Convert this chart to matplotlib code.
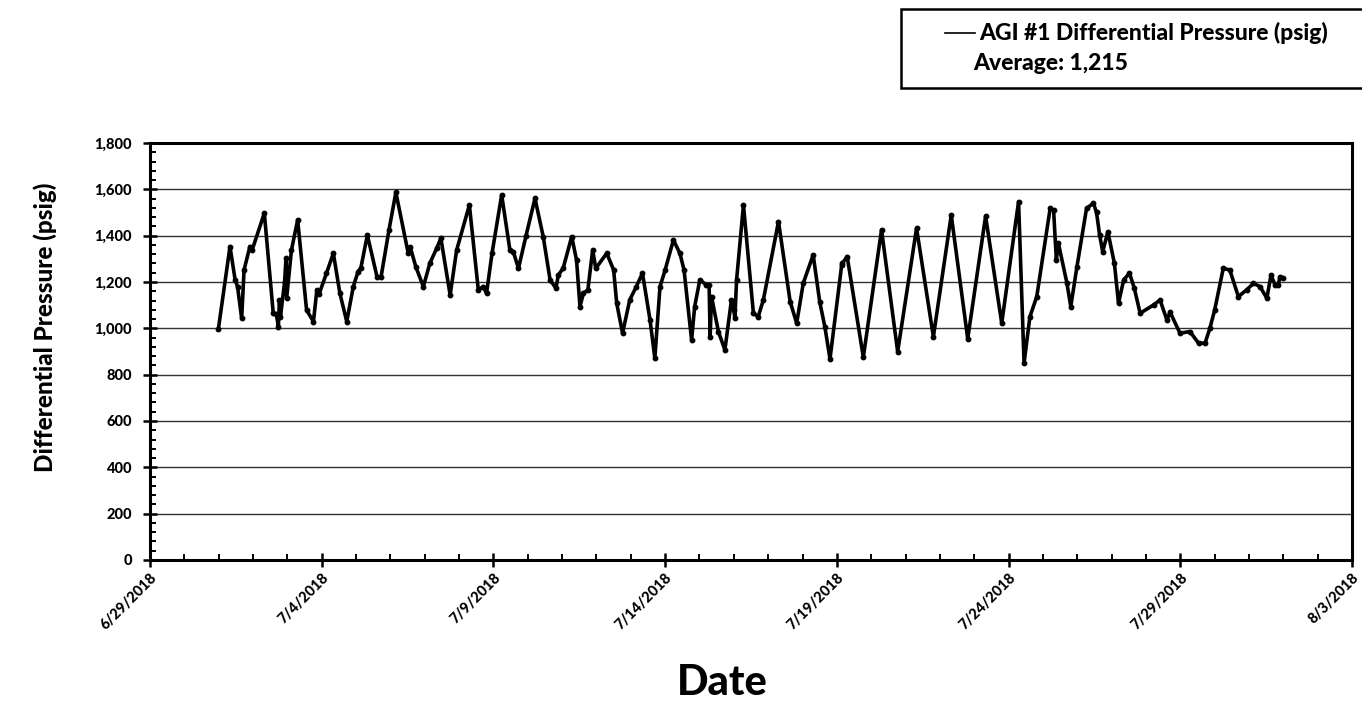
import matplotlib
matplotlib.use("Agg")
import matplotlib.pyplot as plt
import matplotlib.dates as mdates
from matplotlib.patches import Rectangle
from matplotlib.lines import Line2D
from matplotlib.ticker import MultipleLocator, FuncFormatter
import numpy as np
import pandas as pd

plt.rcParams['font.family'] = ['Lato', 'DejaVu Sans']
plt.rcParams['font.weight'] = 'bold'

# Days elapsed since 2018-06-29 00:00 for each reading
day_offset = [
    1.99, 2.33, 2.48, 2.55, 2.67, 2.74, 2.91, 2.98, 3.33, 3.59, 3.68, 3.74, 3.77, 3.80,
    3.92, 3.96, 3.98, 4.12, 4.30, 4.56, 4.76, 4.86, 4.93, 5.14, 5.34, 5.53, 5.73, 5.92,
    6.06, 6.14, 6.33, 6.61, 6.73, 6.96, 7.16, 7.52, 7.58, 7.74, 7.96, 8.15, 8.35, 8.47,
    8.74, 8.93, 9.30, 9.56, 9.70, 9.80, 9.96, 10.24, 10.48, 10.58, 10.73, 10.95, 11.21,
    11.45, 11.65, 11.82, 11.89, 12.03, 12.28, 12.42, 12.52, 12.62, 12.75, 12.89, 12.98,
    13.30, 13.50, 13.59, 13.76, 13.97, 14.16, 14.34, 14.56, 14.70, 14.85, 15.00, 15.24,
    15.43, 15.55, 15.77, 15.86, 16.01, 16.20, 16.28, 16.31, 16.35, 16.55, 16.74, 16.93,
    17.00, 17.03, 17.08, 17.28, 17.57, 17.71, 17.86, 18.30, 18.64, 18.83, 19.02, 19.31,
    19.50, 19.65, 19.80, 20.14, 20.16, 20.30, 20.77, 21.30, 21.77, 22.32, 22.81, 23.33,
    23.81, 24.33, 24.80, 25.29, 25.45, 25.62, 25.82, 26.21, 26.31, 26.39, 26.45, 26.70,
    26.81, 26.99, 27.27, 27.47, 27.56, 27.65, 27.74, 27.89, 28.08, 28.20, 28.35, 28.52,
    28.66, 28.83, 29.22, 29.41, 29.61, 29.70, 29.99, 30.28, 30.53, 30.72, 30.86, 31.00,
    31.25, 31.44, 31.69, 31.93, 32.13, 32.32, 32.52, 32.64, 32.76, 32.85, 32.90, 33.00,
]

# Differential pressure readings (psig)
pressure = [
    995, 1353, 1209, 1180, 1043, 1252, 1353, 1340, 1497, 1065, 1060, 1007, 1122, 1050,
    1200, 1302, 1131, 1338, 1468, 1079, 1029, 1166, 1150, 1238, 1324, 1151, 1029, 1180,
    1245, 1260, 1403, 1223, 1223, 1425, 1587, 1324, 1350, 1266, 1180, 1281, 1346, 1389,
    1144, 1338, 1532, 1166, 1180, 1151, 1324, 1576, 1338, 1330, 1259, 1400, 1561,
    1396, 1209, 1173, 1230, 1259, 1396, 1295, 1094, 1151, 1166, 1338, 1259,
    1324, 1252, 1108, 979, 1123, 1180, 1238, 1036, 871, 1180, 1252, 1381,
    1324, 1252, 950, 1094, 1209, 1187, 1187, 964, 1137, 986, 907, 1122,
    1080, 1043, 1209, 1532, 1065, 1050, 1123, 1461, 1115, 1022, 1194, 1317,
    1115, 1007, 868, 1273, 1281, 1310, 875, 1425, 899, 1432, 964, 1489,
    955, 1484, 1022, 1547, 850, 1050, 1137, 1518, 1510, 1295, 1367, 1194,
    1094, 1266, 1518, 1540, 1500, 1403, 1331, 1417, 1281, 1108, 1209, 1238,
    1173, 1065, 1101, 1122, 1036, 1070, 979, 986, 936, 936, 1000, 1079,
    1259, 1252, 1137, 1166, 1194, 1180, 1130, 1230, 1187, 1185, 1223, 1216,
]

series_label = "AGI #1 Differential Pressure (psig)"
average_label = "Average: 1,215"

start = pd.Timestamp("2018-06-29")
end = pd.Timestamp("2018-08-03")
times = start + pd.to_timedelta(np.array(day_offset), unit="D")

fig = plt.figure(figsize=(13.62, 7.15), dpi=100)
ax = fig.add_axes([0.1101, 0.2168, 0.8826, 0.5832])

ax.plot(times, pressure, color="black", lw=2.6, marker="o", markersize=3.2,
        solid_joinstyle="round")

ax.set_xlim(start, end)
ax.set_ylim(0, 1800)

# y axis
ax.yaxis.set_major_locator(MultipleLocator(200))
ax.yaxis.set_minor_locator(MultipleLocator(40))
ax.yaxis.set_major_formatter(FuncFormatter(lambda v, p: f"{int(v):,}"))
ax.grid(axis="y", which="major", color="#333333", lw=1.0)
ax.set_axisbelow(True)

# x axis: labels every 5 days, minor ticks daily
major_dates = pd.date_range(start, end, freq="5D")
ax.set_xticks(major_dates)
ax.set_xticklabels([f"{d.month}/{d.day}/{d.year}" for d in major_dates],
                   rotation=45, ha="right", rotation_mode="anchor")
ax.xaxis.set_minor_locator(mdates.DayLocator())

ax.tick_params(axis="both", which="major", direction="inout", length=10, width=1.8,
               labelsize=10.5, colors="black")
ax.tick_params(axis="x", which="major", pad=3)
ax.tick_params(axis="y", which="major", pad=8)
ax.tick_params(axis="both", which="minor", direction="in", length=4, width=1.4)
for lab in ax.get_xticklabels() + ax.get_yticklabels():
    lab.set_fontweight(900)

for sp in ax.spines.values():
    sp.set_linewidth(2.2)
    sp.set_color("black")

ax.set_ylabel("Differential Pressure (psig)", fontsize=17.5, fontweight=900)
ax.yaxis.set_label_coords(-0.077, 0.557)
fig.text(0.530, 0.018, "Date", fontsize=30, fontweight=900, ha="center", va="bottom")

# legend box at the top right
box = Rectangle((901 / 1362, 1 - 88 / 715), 0.40, 79 / 715, transform=fig.transFigure,
                facecolor="white", edgecolor="black", lw=1.8, clip_on=False)
fig.patches.append(box)
fig.lines.append(Line2D([945 / 1362, 975 / 1362], [1 - 33 / 715, 1 - 33 / 715],
                        transform=fig.transFigure, color="black", lw=1.2))
fig.text(979 / 1362, 1 - 33 / 715, series_label, fontsize=16.5, fontweight=900,
         ha="left", va="center")
fig.text(973 / 1362, 1 - 63 / 715, average_label, fontsize=16.5, fontweight=900,
         ha="left", va="center")

fig.savefig("out.png", dpi=100, facecolor="white")
